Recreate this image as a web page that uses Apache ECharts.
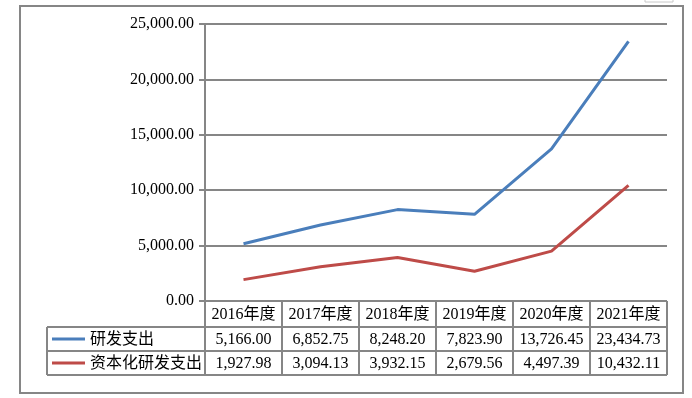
<!DOCTYPE html>
<html>
<head>
<meta charset="utf-8">
<script src="https://cdn.jsdelivr.net/npm/echarts@6/dist/echarts.min.js"></script>
<style>
  html, body { margin: 0; padding: 0; background: #fff; }
  #chart { width: 692px; height: 398px; }
</style>
</head>
<body>
<div id="chart"></div>
<script>
// 年度
const categories = ['2016年度', '2017年度', '2018年度', '2019年度', '2020年度', '2021年度']
// 研发支出
const rdSpend = [5166.00, 6852.75, 8248.20, 7823.90, 13726.45, 23434.73]
// 资本化研发支出
const rdCapitalized = [1927.98, 3094.13, 3932.15, 2679.56, 4497.39, 10432.11]
const seriesNames = ['研发支出', '资本化研发支出']
const seriesColors = ['#4a7ebb', '#be4b48']

const FONT = '"Liberation Serif", "Times New Roman", "Noto Sans CJK SC", serif'
const GRAY = '#868686'

function fmt(v) {
  return v.toLocaleString('en-US', { minimumFractionDigits: 2, maximumFractionDigits: 2 })
}

const myChart = echarts.init(document.getElementById('chart'), null, { renderer: 'canvas' })

myChart.setOption({
  animation: false,
  backgroundColor: '#fff',
  grid: { left: 205, top: 24, width: 462, height: 277, containLabel: false },
  xAxis: {
    type: 'category',
    data: categories,
    boundaryGap: true,
    axisLine: { show: false },
    axisTick: { show: false },
    axisLabel: { show: false },
    splitLine: { show: false }
  },
  yAxis: {
    type: 'value',
    min: 0,
    max: 25000,
    interval: 5000,
    axisLine: { show: true, lineStyle: { color: GRAY, width: 2 } },
    axisTick: { show: true, length: 6, lineStyle: { color: GRAY, width: 2 } },
    axisLabel: {
      margin: 11,
      color: '#000',
      fontFamily: FONT,
      fontSize: 16,
      formatter: fmt
    },
    splitLine: { lineStyle: { color: GRAY, width: 2 } }
  },
  series: [
    {
      name: seriesNames[0], type: 'line', data: rdSpend,
      symbol: 'none', lineStyle: { color: seriesColors[0], width: 3 }
    },
    {
      name: seriesNames[1], type: 'line', data: rdCapitalized,
      symbol: 'none', lineStyle: { color: seriesColors[1], width: 3 }
    }
  ]
})

// 数据表
function buildTable() {
  const centers = categories.map((c, i) => myChart.convertToPixel({ xAxisIndex: 0 }, i))
  const colW = centers[1] - centers[0]
  const left = centers[0] - colW / 2
  const right = centers[centers.length - 1] + colW / 2
  const top = myChart.convertToPixel({ yAxisIndex: 0 }, 0)
  const rowH = [26, 24, 24]
  const rowY = [top, top + rowH[0], top + rowH[0] + rowH[1], top + rowH[0] + rowH[1] + rowH[2]]
  const legendLeft = 47
  const els = []
  const line = (x1, y1, x2, y2, color, w) => els.push({
    type: 'line', silent: true, z: 10,
    shape: { x1, y1, x2, y2 },
    style: { stroke: color || GRAY, lineWidth: w || 2 }
  })
  const text = (str, x, y, align) => els.push({
    type: 'text', silent: true, z: 11,
    style: {
      text: str, x, y, fill: '#000', font: '16px ' + FONT,
      align: align || 'center', textAlign: align || 'center',
      verticalAlign: 'middle', textVerticalAlign: 'middle'
    }
  })

  // 外框
  els.push({
    type: 'rect', silent: true, z: 0,
    shape: { x: 20, y: 6, width: 663, height: 387 },
    style: { fill: 'none', stroke: GRAY, lineWidth: 2 }
  })
  els.push({
    type: 'rect', silent: true, z: 0,
    shape: { x: 645, y: -1, width: 28, height: 3 },
    style: { fill: 'none', stroke: '#c8c8c8', lineWidth: 1 }
  })

  // 横线
  line(left, rowY[0], right, rowY[0])
  line(legendLeft, rowY[1], right, rowY[1])
  line(legendLeft, rowY[2], right, rowY[2])
  line(legendLeft, rowY[3], right, rowY[3])
  // 竖线
  for (let i = 0; i <= categories.length; i++) {
    const x = left + i * colW
    line(x, rowY[0], x, rowY[3])
  }
  line(legendLeft, rowY[1], legendLeft, rowY[3])

  categories.forEach((c, i) => text(c, centers[i], (rowY[0] + rowY[1]) / 2 + 1))
  const rows = [rdSpend, rdCapitalized]
  rows.forEach((vals, r) => {
    const cy = (rowY[r + 1] + rowY[r + 2]) / 2 + 1
    line(legendLeft + 5, cy - 1, legendLeft + 38, cy - 1, seriesColors[r], 3)
    text(seriesNames[r], legendLeft + 43, cy, 'left')
    vals.forEach((v, i) => text(fmt(v), centers[i], cy))
  })
  myChart.setOption({ graphic: { elements: els } })
}
buildTable()
</script>
</body>
</html>
